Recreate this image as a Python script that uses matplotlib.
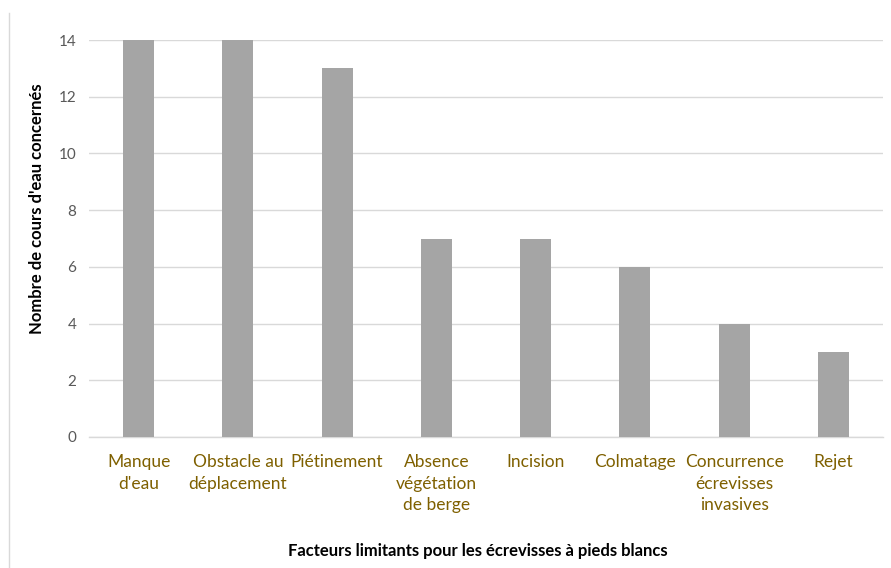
import matplotlib
matplotlib.use("Agg")
import matplotlib.pyplot as plt
from matplotlib.lines import Line2D

categories = ["Manque\nd'eau", "Obstacle au\ndéplacement", "Piétinement",
              "Absence\nvégétation\nde berge", "Incision", "Colmatage",
              "Concurrence\nécrevisses\ninvasives", "Rejet"]
values = [14, 14, 13, 7, 7, 6, 4, 3]
yticks = [0, 2, 4, 6, 8, 10, 12, 14]

plt.rcParams['font.family'] = ['Lato', 'DejaVu Sans']

fig = plt.figure(figsize=(8.91, 5.68), dpi=100)
ax = fig.add_axes([89 / 891, 1 - 437 / 568, (883 - 89) / 891, (437 - 40) / 568])

x = list(range(len(categories)))
ax.bar(x, values, width=0.31, color='#A5A5A5', zorder=3)

ax.set_xlim(-0.5, len(categories) - 0.5)
ax.set_ylim(0, 14)
ax.set_yticks(yticks)
ax.set_yticklabels([str(t) for t in yticks], color='#595959', fontsize=11)
ax.yaxis.grid(True, color='#D9D9D9', linewidth=1, zorder=0)
ax.tick_params(axis='y', length=0, pad=9)
ax.tick_params(axis='x', length=0, pad=12)
ax.set_xticks(x)
ax.set_xticklabels(categories, color='#7F6000', fontsize=12.5, linespacing=1.45)

for side in ['top', 'right', 'left']:
    ax.spines[side].set_visible(False)
ax.spines['bottom'].set_color('#D9D9D9')
ax.spines['bottom'].set_linewidth(1)

ax.set_ylabel("Nombre de cours d'eau concernés", fontsize=12, fontweight='bold',
              color='black')
ax.yaxis.set_label_coords((45 - 89) / 794, (437 - 209) / 397)
fig.text(478 / 891, 1 - 551 / 568, "Facteurs limitants pour les écrevisses à pieds blancs",
         ha='center', va='center', fontsize=12, fontweight='bold', color='black')

# thin frame line on the left edge of the chart area
fig.add_artist(Line2D([9 / 891, 9 / 891], [0, 1 - 13 / 568], transform=fig.transFigure,
                      color='#D9D9D9', linewidth=1))

fig.savefig("out.png", dpi=100)
